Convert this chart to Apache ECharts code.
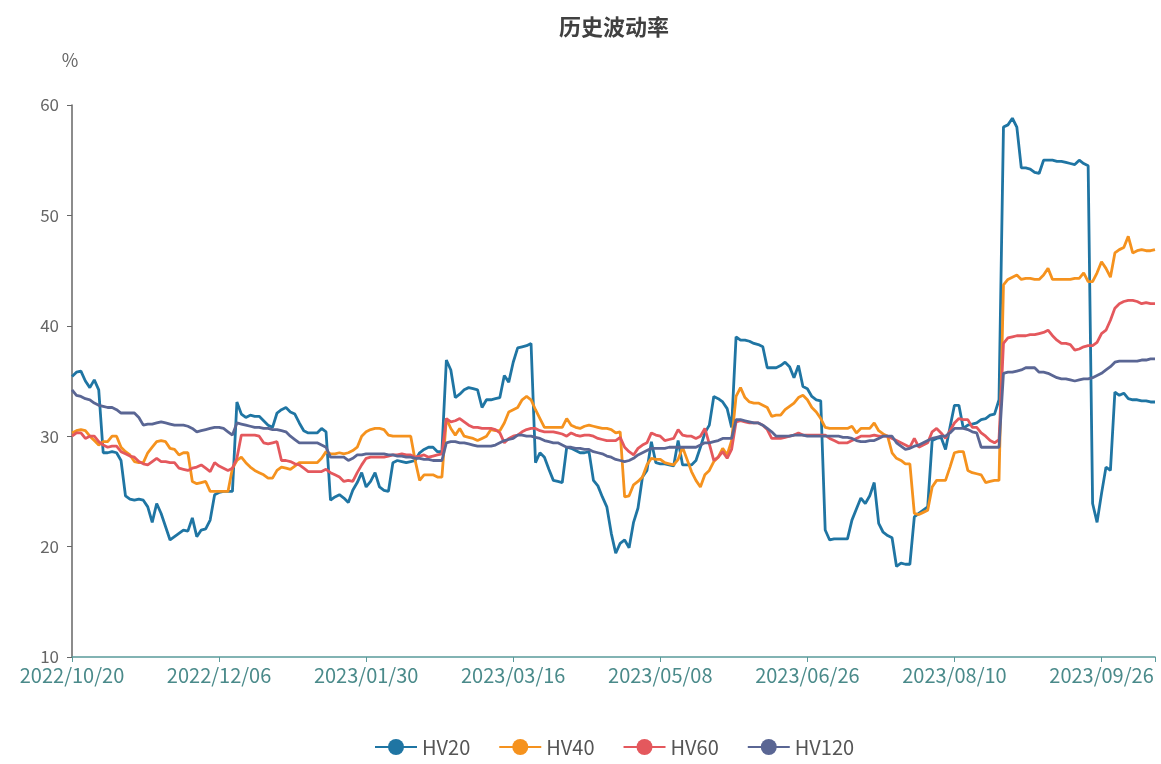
<!DOCTYPE html>
<html>
<head>
<meta charset="utf-8">
<script src="https://cdn.jsdelivr.net/npm/echarts@6/dist/echarts.min.js"></script>
<style>
html,body{margin:0;padding:0;background:#fff;}
#chart{width:1161px;height:764px;}
</style>
</head>
<body>
<div id="chart"></div>
<script>
const dates = [
"2022/10/20","2022/10/21","2022/10/24","2022/10/25","2022/10/26","2022/10/27","2022/10/28","2022/10/31",
"2022/11/01","2022/11/02","2022/11/03","2022/11/04","2022/11/07","2022/11/08","2022/11/09","2022/11/10","2022/11/11",
"2022/11/14","2022/11/15","2022/11/16","2022/11/17","2022/11/18","2022/11/21","2022/11/22","2022/11/23","2022/11/24","2022/11/25",
"2022/11/28","2022/11/29","2022/11/30",
"2022/12/01","2022/12/02","2022/12/05","2022/12/06","2022/12/07","2022/12/08","2022/12/09","2022/12/12","2022/12/13","2022/12/14",
"2022/12/15","2022/12/16","2022/12/19","2022/12/20","2022/12/21","2022/12/22","2022/12/23","2022/12/26","2022/12/27","2022/12/28",
"2022/12/29","2022/12/30",
"2023/01/03","2023/01/04","2023/01/05","2023/01/06","2023/01/09","2023/01/10","2023/01/11","2023/01/12","2023/01/13",
"2023/01/16","2023/01/17","2023/01/18","2023/01/19","2023/01/20","2023/01/30","2023/01/31",
"2023/02/01","2023/02/02","2023/02/03","2023/02/06","2023/02/07","2023/02/08","2023/02/09","2023/02/10","2023/02/13","2023/02/14",
"2023/02/15","2023/02/16","2023/02/17","2023/02/20","2023/02/21","2023/02/22","2023/02/23","2023/02/24","2023/02/27","2023/02/28",
"2023/03/01","2023/03/02","2023/03/03","2023/03/06","2023/03/07","2023/03/08","2023/03/09","2023/03/10","2023/03/13","2023/03/14",
"2023/03/15","2023/03/16","2023/03/17","2023/03/20","2023/03/21","2023/03/22","2023/03/23","2023/03/24","2023/03/27","2023/03/28",
"2023/03/29","2023/03/30","2023/03/31",
"2023/04/03","2023/04/04","2023/04/06","2023/04/07","2023/04/10","2023/04/11","2023/04/12","2023/04/13","2023/04/14",
"2023/04/17","2023/04/18","2023/04/19","2023/04/20","2023/04/21","2023/04/24","2023/04/25","2023/04/26","2023/04/27","2023/04/28",
"2023/05/04","2023/05/05","2023/05/08","2023/05/09","2023/05/10","2023/05/11","2023/05/12","2023/05/15","2023/05/16","2023/05/17",
"2023/05/18","2023/05/19","2023/05/22","2023/05/23","2023/05/24","2023/05/25","2023/05/26","2023/05/29","2023/05/30","2023/05/31",
"2023/06/01","2023/06/02","2023/06/05","2023/06/06","2023/06/07","2023/06/08","2023/06/09","2023/06/12","2023/06/13","2023/06/14",
"2023/06/15","2023/06/16","2023/06/19","2023/06/20","2023/06/21","2023/06/26","2023/06/27","2023/06/28","2023/06/29","2023/06/30",
"2023/07/03","2023/07/04","2023/07/05","2023/07/06","2023/07/07","2023/07/10","2023/07/11","2023/07/12","2023/07/13","2023/07/14",
"2023/07/17","2023/07/18","2023/07/19","2023/07/20","2023/07/21","2023/07/24","2023/07/25","2023/07/26","2023/07/27","2023/07/28",
"2023/07/31",
"2023/08/01","2023/08/02","2023/08/03","2023/08/04","2023/08/07","2023/08/08","2023/08/09","2023/08/10","2023/08/11",
"2023/08/14","2023/08/15","2023/08/16","2023/08/17","2023/08/18","2023/08/21","2023/08/22","2023/08/23","2023/08/24","2023/08/25",
"2023/08/28","2023/08/29","2023/08/30","2023/08/31",
"2023/09/01","2023/09/04","2023/09/05","2023/09/06","2023/09/07","2023/09/08","2023/09/11","2023/09/12","2023/09/13","2023/09/14",
"2023/09/15","2023/09/18","2023/09/19","2023/09/20","2023/09/21","2023/09/22","2023/09/25","2023/09/26","2023/09/27","2023/09/28",
"2023/10/09","2023/10/10","2023/10/11","2023/10/12","2023/10/13","2023/10/16","2023/10/17","2023/10/18","2023/10/19","2023/10/20"
];

const hv20 = [
35.4,35.8,35.9,35.0,34.4,35.1,34.2,28.5,28.5,28.6,
28.5,27.8,24.6,24.3,24.2,24.3,24.2,23.6,22.2,23.9,
23.0,21.8,20.6,20.9,21.2,21.5,21.4,22.6,20.9,21.5,
21.6,22.4,24.7,24.9,25.0,25.0,25.0,33.1,32.0,31.7,
31.9,31.8,31.8,31.4,31.0,30.8,32.1,32.4,32.6,32.2,
32.0,31.2,30.5,30.3,30.3,30.3,30.7,30.4,24.2,24.5,
24.7,24.4,24.0,25.1,25.8,26.7,25.4,25.9,26.7,25.4,
25.1,25.0,27.6,27.8,27.7,27.6,27.7,27.8,28.5,28.8,
29.0,29.0,28.6,28.6,36.9,36.0,33.5,33.8,34.2,34.4,
34.3,34.2,32.6,33.3,33.3,33.4,33.5,35.5,34.9,36.7,
38.0,38.1,38.2,38.4,27.6,28.5,28.1,27.0,26.0,25.9,
25.8,29.0,28.9,28.7,28.5,28.5,28.6,26.0,25.5,24.5,
23.6,21.2,19.4,20.3,20.6,19.9,22.2,23.5,26.3,26.9,
29.5,27.6,27.5,27.5,27.4,27.3,29.6,27.4,27.4,27.4,
27.8,29.0,30.3,31.0,33.6,33.4,33.1,32.5,30.8,39.0,
38.7,38.7,38.6,38.4,38.3,38.1,36.2,36.2,36.2,36.4,
36.7,36.3,35.3,36.4,34.5,34.3,33.6,33.3,33.2,21.5,
20.6,20.7,20.7,20.7,20.7,22.4,23.4,24.4,23.9,24.6,
25.8,22.1,21.3,21.0,20.8,18.2,18.5,18.4,18.4,22.7,
23.0,23.3,23.6,29.6,29.8,29.9,28.8,30.8,32.8,32.8,
30.7,31.0,31.1,31.2,31.5,31.6,31.9,32.0,33.3,58.0,
58.2,58.8,58.0,54.3,54.3,54.2,53.9,53.8,55.0,55.0,
55.0,54.9,54.9,54.8,54.7,54.6,55.0,54.7,54.5,23.9,
22.2,24.8,27.2,26.9,34.0,33.7,33.9,33.4,33.3,33.3,
33.2,33.2,33.1,33.1
];

const hv40 = [
30.3,30.5,30.6,30.5,30.0,29.6,29.2,29.5,29.5,30.0,
30.0,29.0,28.6,28.3,27.7,27.6,27.6,28.5,29.0,29.5,
29.6,29.5,28.9,28.8,28.3,28.5,28.5,25.9,25.7,25.8,
25.9,25.0,25.0,25.0,25.0,25.0,27.1,27.8,28.1,27.6,
27.2,26.9,26.7,26.5,26.2,26.2,26.9,27.2,27.1,27.0,
27.3,27.6,27.6,27.6,27.6,27.6,28.0,28.6,28.4,28.4,
28.5,28.4,28.5,28.7,29.0,30.0,30.4,30.6,30.7,30.7,
30.6,30.1,30.0,30.0,30.0,30.0,30.0,27.8,26.0,26.5,
26.5,26.5,26.3,26.3,31.6,30.7,30.1,30.7,30.0,29.9,
29.8,29.6,29.8,30.0,30.6,30.5,30.5,31.2,32.2,32.4,
32.6,33.3,33.6,33.3,32.4,31.6,30.8,30.8,30.8,30.8,
30.8,31.6,31.0,30.8,30.7,30.9,31.0,30.9,30.8,30.7,
30.7,30.6,30.3,30.4,24.5,24.6,25.6,25.9,26.3,27.4,
28.0,27.9,27.9,27.6,27.5,27.4,27.9,29.0,27.9,26.8,
26.0,25.4,26.5,26.9,27.7,28.1,28.9,28.3,29.6,33.6,
34.4,33.5,33.1,33.0,33.0,32.8,32.6,31.8,31.9,31.9,
32.4,32.7,33.0,33.5,33.7,33.3,32.6,32.2,31.6,30.8,
30.7,30.7,30.7,30.7,30.7,30.9,30.3,30.7,30.7,30.7,
31.2,30.5,30.2,30.0,28.5,28.0,27.8,27.5,27.5,23.0,
22.9,23.1,23.3,25.4,26.0,26.0,26.0,27.2,28.5,28.6,
28.6,26.9,26.7,26.6,26.5,25.8,25.9,26.0,26.0,43.7,
44.2,44.4,44.6,44.2,44.3,44.3,44.2,44.2,44.6,45.2,
44.2,44.2,44.2,44.2,44.2,44.3,44.3,44.8,44.0,44.0,
44.8,45.8,45.2,44.4,46.6,46.9,47.1,48.1,46.6,46.8,
46.9,46.8,46.8,46.9
];

const hv60 = [
30.0,30.3,30.3,29.8,30.0,30.0,29.5,29.2,29.0,29.1,
29.1,28.6,28.4,28.2,28.1,27.7,27.5,27.4,27.7,28.0,
27.7,27.7,27.6,27.6,27.1,27.0,26.9,27.1,27.2,27.4,
27.1,26.8,27.6,27.3,27.1,26.9,27.1,28.0,30.1,30.1,
30.1,30.1,30.0,29.4,29.3,29.4,29.5,27.8,27.8,27.7,
27.5,27.4,27.1,26.8,26.8,26.8,26.8,27.0,26.7,26.5,
26.3,25.9,26.0,25.9,26.7,27.4,28.0,28.1,28.1,28.1,
28.1,28.2,28.3,28.3,28.4,28.3,28.3,28.1,28.2,28.3,
28.1,28.2,28.3,28.4,31.6,31.3,31.4,31.6,31.3,31.0,
30.8,30.8,30.7,30.7,30.7,30.6,30.3,29.4,29.8,30.0,
30.1,30.4,30.6,30.7,30.7,30.5,30.4,30.4,30.4,30.3,
30.2,30.0,30.3,30.1,30.0,30.1,30.1,30.0,29.8,29.7,
29.6,29.6,29.6,29.9,29.0,28.6,28.3,28.9,29.2,29.4,
30.3,30.1,30.0,29.6,29.7,29.8,30.6,30.1,30.0,30.0,
29.8,30.0,30.7,29.3,27.8,28.1,28.6,28.0,28.8,31.3,
31.4,31.3,31.2,31.2,31.2,31.0,30.6,29.8,29.8,29.8,
29.9,30.0,30.1,30.3,30.1,30.1,30.1,30.1,30.1,30.1,
29.8,29.6,29.4,29.4,29.4,29.6,29.8,30.0,30.0,30.0,
30.1,30.0,30.0,30.0,29.8,29.6,29.4,29.2,29.0,29.8,
29.0,29.2,29.4,30.4,30.7,30.3,29.8,30.5,31.2,31.6,
31.5,31.5,30.8,30.8,30.3,30.0,29.6,29.4,29.7,38.4,
38.9,39.0,39.1,39.1,39.1,39.2,39.2,39.3,39.4,39.6,
39.1,38.7,38.4,38.4,38.3,37.8,37.9,38.1,38.2,38.2,
38.5,39.3,39.6,40.5,41.6,42.0,42.2,42.3,42.3,42.2,
42.0,42.1,42.0,42.0
];

const hv120 = [
34.2,33.7,33.6,33.4,33.3,33.0,32.8,32.7,32.6,32.6,
32.4,32.1,32.1,32.1,32.1,31.7,31.0,31.1,31.1,31.2,
31.3,31.2,31.1,31.0,31.0,31.0,30.9,30.7,30.4,30.5,
30.6,30.7,30.8,30.8,30.7,30.4,30.1,31.2,31.1,31.0,
30.9,30.8,30.8,30.7,30.7,30.6,30.6,30.5,30.4,30.0,
29.7,29.4,29.4,29.4,29.4,29.4,29.2,29.0,28.1,28.1,
28.1,28.1,27.8,28.0,28.3,28.3,28.4,28.4,28.4,28.4,
28.4,28.3,28.3,28.2,28.2,28.1,28.1,28.0,28.0,27.9,
27.9,27.8,27.8,27.8,29.4,29.5,29.5,29.4,29.4,29.3,
29.2,29.1,29.1,29.1,29.1,29.2,29.4,29.6,29.7,29.8,
30.1,30.1,30.0,30.0,29.9,29.8,29.6,29.5,29.4,29.4,
29.2,29.0,29.0,28.9,28.9,28.8,28.8,28.6,28.5,28.4,
28.2,28.1,27.9,27.8,27.7,27.8,28.0,28.3,28.5,28.7,
28.9,28.9,28.9,28.9,29.0,29.0,29.0,29.0,29.0,29.0,
29.0,29.2,29.4,29.4,29.5,29.6,29.8,29.8,29.8,31.5,
31.5,31.4,31.3,31.2,31.2,31.0,30.7,30.4,30.0,30.0,
30.0,30.0,30.1,30.1,30.1,30.0,30.0,30.0,30.0,30.0,
30.0,30.0,30.0,29.9,29.9,29.8,29.6,29.5,29.5,29.6,
29.6,29.8,30.0,30.0,30.0,29.4,29.1,28.8,28.9,29.1,
29.2,29.4,29.6,29.8,29.9,30.0,30.0,30.3,30.7,30.7,
30.7,30.6,30.4,30.3,29.0,29.0,29.0,29.0,29.0,35.7,
35.8,35.8,35.9,36.0,36.2,36.2,36.2,35.8,35.8,35.7,
35.5,35.3,35.2,35.2,35.1,35.0,35.1,35.2,35.2,35.3,
35.5,35.7,36.0,36.3,36.7,36.8,36.8,36.8,36.8,36.8,
36.9,36.9,37.0,37.0
];

const seriesNames = ["HV20","HV40","HV60","HV120"];
const seriesColors = ["#1f75a3","#f5921e","#e4585d","#5a6694"];
const seriesData = [hv20, hv40, hv60, hv120];

const chart = echarts.init(document.getElementById('chart'));
const font = '"Noto Sans CJK SC","Noto Sans",sans-serif';
const lastIdx = dates.length - 1;
chart.setOption({
  animation: false,
  backgroundColor: '#ffffff',
  textStyle: { fontFamily: font },
  title: {
    text: '历史波动率',
    left: 554, top: 11,
    textStyle: { fontSize: 22, fontWeight: 'bold', color: '#404040', fontFamily: font }
  },
  legend: {
    bottom: 2,
    left: 369,
    itemWidth: 42,
    itemHeight: 20,
    itemGap: 28,
    textStyle: { fontSize: 20, color: '#555555', fontFamily: font },
    data: seriesNames
  },
  grid: { left: 72, right: 6, top: 105, bottom: 107, containLabel: false },
  xAxis: {
    type: 'category',
    data: dates,
    boundaryGap: false,
    axisLine: { lineStyle: { color: '#5a9a9a', width: 1.5 } },
    axisTick: { interval: function (i) { return i % 33 === 0 || i === lastIdx; }, lineStyle: { color: '#5a9a9a' } },
    axisLabel: { interval: 32, color: '#4a8a8a', fontSize: 20, margin: 8, fontFamily: font },
    splitLine: { show: false }
  },
  yAxis: {
    type: 'value',
    min: 10, max: 60, interval: 10,
    name: '%',
    nameGap: 36,
    nameTextStyle: { color: '#666666', fontSize: 18, align: 'center', padding: [0, 4, 0, 0] },
    axisLine: { show: true, lineStyle: { color: '#666666', width: 1.5 } },
    axisTick: { show: true, lineStyle: { color: '#666666' } },
    axisLabel: { color: '#666666', fontSize: 17, margin: 13 },
    splitLine: { show: false }
  },
  series: seriesNames.map((n, k) => ({
    name: n,
    type: 'line',
    data: seriesData[k],
    symbol: 'circle',
    symbolSize: 16,
    showSymbol: false,
    itemStyle: { color: seriesColors[k] },
    lineStyle: { color: seriesColors[k], width: 2.8 }
  }))
});
</script>
</body>
</html>
